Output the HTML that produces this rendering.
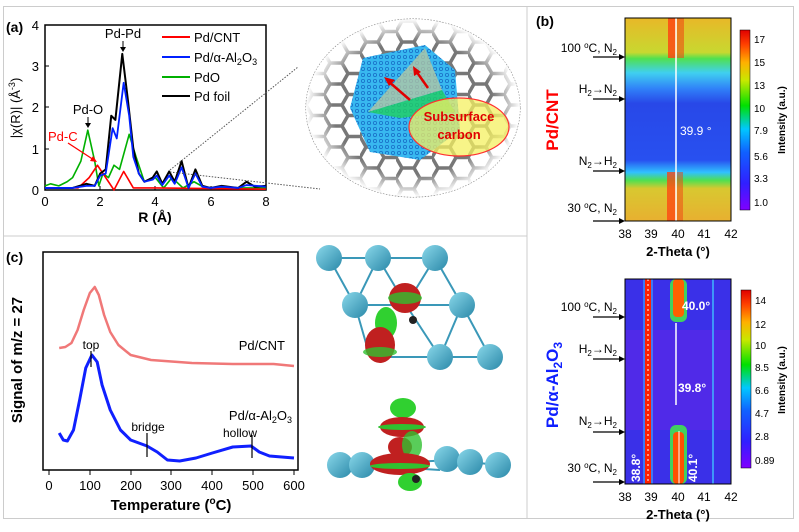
<!DOCTYPE html>
<html><head><meta charset="utf-8"><style>
html,body{margin:0;padding:0;background:#fff}
svg{display:block;font-family:"Liberation Sans",Arial,sans-serif}
</style></head><body>
<svg width="799" height="532" viewBox="0 0 799 532" xmlns="http://www.w3.org/2000/svg">
<defs>
<linearGradient id="cb" x1="0" y1="1" x2="0" y2="0">
<stop offset="0" stop-color="#8000ff"/><stop offset="0.15" stop-color="#3020ff"/><stop offset="0.32" stop-color="#1060ff"/><stop offset="0.45" stop-color="#00c8ff"/><stop offset="0.58" stop-color="#00e000"/><stop offset="0.72" stop-color="#c8e800"/><stop offset="0.82" stop-color="#ffb000"/><stop offset="0.92" stop-color="#ff4000"/><stop offset="1" stop-color="#e00000"/>
</linearGradient>
<linearGradient id="hm1" x1="0" y1="0" x2="0" y2="1">
<stop offset="0" stop-color="#e8b828"/><stop offset="0.17" stop-color="#c8d830"/><stop offset="0.2" stop-color="#50e050"/><stop offset="0.27" stop-color="#40d0f0"/><stop offset="0.35" stop-color="#3080f8"/><stop offset="0.42" stop-color="#2848e8"/><stop offset="0.7" stop-color="#2850f0"/><stop offset="0.76" stop-color="#30c0ff"/><stop offset="0.8" stop-color="#50e050"/><stop offset="0.84" stop-color="#d8c830"/><stop offset="1" stop-color="#e8b030"/>
</linearGradient>
<linearGradient id="sphere" x1="0" y1="0" x2="1" y2="1"><stop offset="0" stop-color="#8ad8ea"/><stop offset="1" stop-color="#2a88a8"/></linearGradient>
<radialGradient id="ell" cx="0.5" cy="0.5" r="0.5"><stop offset="0.75" stop-color="#fff" stop-opacity="0"/><stop offset="1" stop-color="#fff"/></radialGradient>
<pattern id="hex" width="36" height="21" patternUnits="userSpaceOnUse"><path d="M0 10.5 L6 0 L18 0 L24 10.5 L18 21 L6 21 Z M24 10.5 L36 10.5" fill="none" stroke="#777" stroke-width="3.5"/></pattern>
<pattern id="pd" width="6" height="6" patternUnits="userSpaceOnUse"><rect width="6" height="6" fill="#38b8f0"/><circle cx="3" cy="3" r="1.6" fill="none" stroke="#1870c8" stroke-width="0.8"/></pattern>
</defs>
<rect x="3.5" y="6.5" width="790" height="512" fill="none" stroke="#ccc"/>
<line x1="527" y1="6" x2="527" y2="518" stroke="#ccc"/>
<line x1="3" y1="236" x2="527" y2="236" stroke="#ccc"/>

<!-- panel a -->
<text x="6" y="32" font-size="14" font-weight="bold">(a)</text>
<rect x="45" y="25" width="221" height="165" fill="none" stroke="#000" stroke-width="1.5"/>
<g font-size="13" text-anchor="end">
<text x="39" y="195">0</text><text x="39" y="154">1</text><text x="39" y="112">2</text><text x="39" y="71">3</text><text x="39" y="30">4</text>
</g>
<g stroke="#000"><line x1="45" y1="149" x2="49" y2="149"/><line x1="45" y1="107" x2="49" y2="107"/><line x1="45" y1="66" x2="49" y2="66"/>
<line x1="100" y1="190" x2="100" y2="186"/><line x1="155" y1="190" x2="155" y2="186"/><line x1="211" y1="190" x2="211" y2="186"/></g>
<g font-size="13" text-anchor="middle"><text x="45" y="206">0</text><text x="100" y="206">2</text><text x="155" y="206">4</text><text x="211" y="206">6</text><text x="266" y="206">8</text></g>
<text x="155" y="222" font-size="14" font-weight="bold" text-anchor="middle">R (Å)</text>
<text transform="translate(20,108) rotate(-90)" font-size="13" text-anchor="middle">|χ(R)| (Å<tspan font-size="9" dy="-5">-3</tspan><tspan dy="5">)</tspan></text>
<g transform="translate(45,190) scale(27.6,-41.25)" fill="none" stroke-linejoin="round">
<polyline vector-effect="non-scaling-stroke" stroke="#00b000" stroke-width="1.6" points="0,0.1 0.2,0.15 0.5,0.1 0.8,0.2 1,0.3 1.3,0.7 1.55,1.45 1.8,0.7 1.95,0.1 2.1,0.4 2.3,0.3 2.5,0.6 2.7,0.5 3.05,1.35 3.3,0.8 3.6,0.2 4,0.3 4.3,0.05 4.6,0.3 5,0.05 5.4,0.2 5.8,0.05 8,0.05"/>
<polyline vector-effect="non-scaling-stroke" stroke="#ff0000" stroke-width="1.6" points="0,0.05 1.2,0.05 1.6,0.3 1.9,0.6 2.2,0.3 2.5,0 2.85,0.45 3.2,0.05 4,0.05 8,0.02"/>
<polyline vector-effect="non-scaling-stroke" stroke="#000" stroke-width="2" points="0,0.05 1,0.05 1.5,0.15 1.8,0.1 2,0.4 2.2,0.5 2.4,1.8 2.55,1.7 2.8,3.3 3,2.2 3.2,1 3.4,0.4 3.6,0.2 3.9,0.3 4.05,0.45 4.25,0.15 4.5,0.45 4.7,0.2 4.95,0.7 5.2,0.05 5.45,0.5 5.7,0.1 6,0.05 6.4,0.1 7,0.05 7.3,0.2 7.6,0.08 8,0.1"/>
<polyline vector-effect="non-scaling-stroke" stroke="#0020ff" stroke-width="1.8" points="0,0.05 1,0.05 1.5,0.1 1.8,0.1 2,0.35 2.2,0.4 2.45,1.5 2.6,1.25 2.85,2.6 3.05,1.8 3.2,0.8 3.4,0.4 3.6,0.2 3.9,0.25 4.05,0.35 4.25,0.12 4.5,0.35 4.7,0.15 4.95,0.55 5.2,0.05 5.45,0.4 5.7,0.08 6,0.05 6.4,0.08 7,0.05 7.3,0.12 8,0.08"/>
</g>
<text x="123" y="38" font-size="13" text-anchor="middle">Pd-Pd</text>
<line x1="123" y1="41" x2="123" y2="49" stroke="#000"/><path d="M120 47 L126 47 L123 52Z"/>
<text x="88" y="114" font-size="13" text-anchor="middle">Pd-O</text>
<line x1="88" y1="117" x2="88" y2="125" stroke="#000"/><path d="M85 123 L91 123 L88 128Z"/>
<text x="48" y="141" font-size="13" fill="#ff0000">Pd-C</text>
<line x1="68" y1="143" x2="94" y2="160" stroke="#ff0000" stroke-width="1.3"/><path d="M97 162 L90 161 L93 156Z" fill="#ff0000"/>
<g font-size="13"><line x1="162" y1="37" x2="190" y2="37" stroke="#ff0000" stroke-width="2"/><text x="194" y="42">Pd/CNT</text>
<line x1="162" y1="57" x2="190" y2="57" stroke="#0020ff" stroke-width="2"/><text x="194" y="62">Pd/α-Al<tspan font-size="9" dy="3">2</tspan><tspan dy="-3">O</tspan><tspan font-size="9" dy="3">3</tspan></text>
<line x1="162" y1="77" x2="190" y2="77" stroke="#00b000" stroke-width="2"/><text x="194" y="82">PdO</text>
<line x1="162" y1="96" x2="190" y2="96" stroke="#000" stroke-width="2"/><text x="194" y="101">Pd foil</text></g>
<line x1="170" y1="170" x2="298" y2="67" stroke="#555" stroke-dasharray="1.5,1.5"/>
<line x1="170" y1="172" x2="320" y2="189" stroke="#555" stroke-dasharray="1.5,1.5"/>

<!-- middle illustration -->
<ellipse cx="413" cy="108" rx="107" ry="89" fill="#fff"/>
<ellipse cx="413" cy="108" rx="107" ry="89" fill="url(#hex)" stroke="#777" stroke-dasharray="1.5,1.5"/>
<ellipse cx="413" cy="108" rx="107" ry="89" fill="url(#ell)"/>
<path d="M363 58 L425 45 L455 70 L460 130 L420 160 L370 152 L350 108 Z" fill="url(#pd)"/>
<path d="M368 112 L425 48 L442 90 Z" fill="#b8c8a0" opacity="0.75"/>
<path d="M368 112 L442 90 L455 112 L400 118Z" fill="#20d060" opacity="0.8"/>
<ellipse cx="459" cy="127" rx="50" ry="29" fill="#f4f060" fill-opacity="0.75" stroke="#ff3030" stroke-width="1.2"/>
<line x1="410" y1="100" x2="388" y2="81" stroke="#e00000" stroke-width="2.5"/><path d="M384 77 L395 80 L389 86Z" fill="#e00000"/>
<line x1="428" y1="88" x2="416" y2="71" stroke="#e00000" stroke-width="2.5"/><path d="M413 66 L421 72 L414 76Z" fill="#e00000"/>
<text x="459" y="121" font-size="13" font-weight="bold" fill="#e00000" text-anchor="middle">Subsurface</text>
<text x="459" y="139" font-size="13" font-weight="bold" fill="#e00000" text-anchor="middle">carbon</text>

<!-- panel b top -->
<text x="536" y="26" font-size="14" font-weight="bold">(b)</text>
<rect x="625" y="18" width="106" height="203" fill="url(#hm1)"/>
<rect x="668" y="18" width="8" height="40" fill="#ff4010" opacity="0.8"/>
<rect x="677" y="18" width="7" height="40" fill="#f04010" opacity="0.55"/>
<rect x="667" y="172" width="9" height="49" fill="#ff4010" opacity="0.75"/>
<rect x="677" y="172" width="6" height="49" fill="#f04010" opacity="0.5"/>
<line x1="676" y1="18" x2="676" y2="221" stroke="#fff" stroke-width="1.5"/>
<rect x="625" y="18" width="106" height="203" fill="none" stroke="#000"/>
<text x="680" y="135" font-size="12" fill="#fff">39.9 °</text>
<g font-size="12" text-anchor="middle"><text x="625" y="238">38</text><text x="651" y="238">39</text><text x="678" y="238">40</text><text x="704" y="238">41</text><text x="731" y="238">42</text></g>
<text x="678" y="256" font-size="13" font-weight="bold" text-anchor="middle">2-Theta (°)</text>
<rect x="740" y="30" width="10" height="180" fill="url(#cb)" stroke="#000" stroke-width="0.5"/>
<g font-size="10"><text x="754" y="43">17</text><text x="754" y="66">15</text><text x="754" y="89">13</text><text x="754" y="112">10</text><text x="754" y="134">7.9</text><text x="754" y="160">5.6</text><text x="754" y="182">3.3</text><text x="754" y="206">1.0</text></g>
<text transform="translate(785,120) rotate(-90)" font-size="10" font-weight="bold" text-anchor="middle">Intensity (a.u.)</text>
<text transform="translate(558,120) rotate(-90)" font-size="17" font-weight="bold" fill="#ff0000" text-anchor="middle">Pd/CNT</text>
<g font-size="12" text-anchor="end"><text x="617" y="52">100 <tspan font-size="8" dy="-4">o</tspan><tspan dy="4">C, N</tspan><tspan font-size="8" dy="3">2</tspan></text>
<text x="617" y="93">H<tspan font-size="8" dy="3">2</tspan><tspan dy="-3">→N</tspan><tspan font-size="8" dy="3">2</tspan></text>
<text x="617" y="165">N<tspan font-size="8" dy="3">2</tspan><tspan dy="-3">→H</tspan><tspan font-size="8" dy="3">2</tspan></text>
<text x="617" y="212">30 <tspan font-size="8" dy="-4">o</tspan><tspan dy="4">C, N</tspan><tspan font-size="8" dy="3">2</tspan></text></g>
<g stroke="#000" stroke-width="1.3"><line x1="593" y1="57" x2="620" y2="57"/><line x1="593" y1="99" x2="620" y2="99"/><line x1="593" y1="171" x2="620" y2="171"/><line x1="593" y1="221" x2="620" y2="221"/></g>
<g><path d="M619 54 L625 57 L619 60Z"/><path d="M619 96 L625 99 L619 102Z"/><path d="M619 168 L625 171 L619 174Z"/><path d="M619 218 L625 221 L619 224Z"/></g>

<!-- panel b bottom -->
<rect x="625" y="279" width="106" height="205" fill="#3a30e8"/>
<rect x="625" y="330" width="106" height="100" fill="#5a28e8" opacity="0.7"/>
<rect x="643" y="279" width="10" height="205" fill="#40c0ff" opacity="0.5"/>
<rect x="645" y="279" width="6" height="205" fill="#ff2000"/>
<line x1="648" y1="279" x2="648" y2="484" stroke="#fff" stroke-dasharray="2,3" stroke-width="1"/>
<rect x="670" y="279" width="17" height="43" rx="6" fill="#40d060"/>
<rect x="673" y="279" width="11" height="38" rx="4" fill="#ff6000"/>
<rect x="670" y="425" width="17" height="59" rx="6" fill="#40d060"/>
<rect x="673" y="432" width="11" height="52" rx="4" fill="#ff5000"/>
<line x1="713" y1="279" x2="713" y2="484" stroke="#40c0ff" stroke-width="2" opacity="0.7"/>
<line x1="676" y1="323" x2="676" y2="405" stroke="#fff" stroke-width="1.5"/>
<line x1="679" y1="431" x2="679" y2="484" stroke="#fff" stroke-width="1"/>
<rect x="625" y="279" width="106" height="205" fill="none" stroke="#000"/>
<g font-size="12" font-weight="bold" fill="#fff"><text x="682" y="310">40.0°</text><text x="678" y="392">39.8°</text>
<text transform="translate(640,482) rotate(-90)">38.8°</text><text transform="translate(697,482) rotate(-90)">40.1°</text></g>
<g font-size="12" text-anchor="middle"><text x="625" y="501">38</text><text x="651" y="501">39</text><text x="678" y="501">40</text><text x="704" y="501">41</text><text x="731" y="501">42</text></g>
<text x="678" y="519" font-size="13" font-weight="bold" text-anchor="middle">2-Theta (°)</text>
<rect x="741" y="290" width="10" height="178" fill="url(#cb)" stroke="#000" stroke-width="0.5"/>
<g font-size="10"><text x="755" y="304">14</text><text x="755" y="328">12</text><text x="755" y="349">10</text><text x="755" y="371">8.5</text><text x="755" y="394">6.6</text><text x="755" y="417">4.7</text><text x="755" y="440">2.8</text><text x="755" y="464">0.89</text></g>
<text transform="translate(785,380) rotate(-90)" font-size="10" font-weight="bold" text-anchor="middle">Intensity (a.u.)</text>
<text transform="translate(558,385) rotate(-90)" font-size="17" font-weight="bold" fill="#1020ff" text-anchor="middle">Pd/α-Al<tspan font-size="12" dy="4">2</tspan><tspan dy="-4">O</tspan><tspan font-size="12" dy="4">3</tspan></text>
<g font-size="12" text-anchor="end"><text x="617" y="311">100 <tspan font-size="8" dy="-4">o</tspan><tspan dy="4">C, N</tspan><tspan font-size="8" dy="3">2</tspan></text>
<text x="617" y="353">H<tspan font-size="8" dy="3">2</tspan><tspan dy="-3">→N</tspan><tspan font-size="8" dy="3">2</tspan></text>
<text x="617" y="425">N<tspan font-size="8" dy="3">2</tspan><tspan dy="-3">→H</tspan><tspan font-size="8" dy="3">2</tspan></text>
<text x="617" y="472">30 <tspan font-size="8" dy="-4">o</tspan><tspan dy="4">C, N</tspan><tspan font-size="8" dy="3">2</tspan></text></g>
<g stroke="#000" stroke-width="1.3"><line x1="593" y1="317" x2="620" y2="317"/><line x1="593" y1="359" x2="620" y2="359"/><line x1="593" y1="432" x2="620" y2="432"/><line x1="593" y1="482" x2="620" y2="482"/></g>
<g><path d="M619 314 L625 317 L619 320Z"/><path d="M619 356 L625 359 L619 362Z"/><path d="M619 429 L625 432 L619 435Z"/><path d="M619 479 L625 482 L619 485Z"/></g>

<!-- panel c -->
<text x="6" y="262" font-size="14" font-weight="bold">(c)</text>
<rect x="43" y="252" width="255" height="218" fill="none" stroke="#000" stroke-width="1.5"/>
<g stroke="#000"><line x1="49" y1="470" x2="49" y2="475"/><line x1="90" y1="470" x2="90" y2="475"/><line x1="131" y1="470" x2="131" y2="475"/><line x1="171" y1="470" x2="171" y2="475"/><line x1="212" y1="470" x2="212" y2="475"/><line x1="253" y1="470" x2="253" y2="475"/><line x1="294" y1="470" x2="294" y2="475"/></g>
<g font-size="13" text-anchor="middle"><text x="49" y="490">0</text><text x="90" y="490">100</text><text x="131" y="490">200</text><text x="171" y="490">300</text><text x="212" y="490">400</text><text x="253" y="490">500</text><text x="294" y="490">600</text></g>
<text x="171" y="510" font-size="15" font-weight="bold" text-anchor="middle">Temperature (<tspan font-size="10" dy="-6">o</tspan><tspan dy="6">C)</tspan></text>
<text transform="translate(22,360) rotate(-90)" font-size="15" font-weight="bold" text-anchor="middle">Signal of m/z = 27</text>
<g transform="translate(49,0) scale(0.4083,1)" fill="none" stroke-linejoin="round">
<polyline vector-effect="non-scaling-stroke" stroke="#f07878" stroke-width="2.5" points="25,348 40,347 55,343 70,330 85,310 100,293 112,287 122,295 135,315 150,332 170,345 200,355 250,360 350,363 450,364 550,364 600,366"/>
<polyline vector-effect="non-scaling-stroke" stroke="#1020ff" stroke-width="3" points="25,433 35,440 45,441 60,430 75,400 90,368 105,355 118,362 130,385 150,410 175,430 200,440 240,446 265,452 290,460 320,461 360,458 400,453 450,447 495,446 515,452 540,456 600,458"/>
</g>
<text x="91" y="349" font-size="12" text-anchor="middle">top</text>
<line x1="91" y1="351" x2="91" y2="367" stroke="#000" stroke-width="1.2"/>
<text x="148" y="431" font-size="12" text-anchor="middle">bridge</text>
<line x1="147" y1="433" x2="147" y2="457" stroke="#000" stroke-width="1.2"/>
<text x="240" y="437" font-size="12" text-anchor="middle">hollow</text>
<line x1="252" y1="435" x2="252" y2="458" stroke="#000" stroke-width="1.2"/>
<text x="285" y="350" font-size="13" text-anchor="end">Pd/CNT</text>
<text x="292" y="420" font-size="13" text-anchor="end">Pd/α-Al<tspan font-size="9" dy="3">2</tspan><tspan dy="-3">O</tspan><tspan font-size="9" dy="3">3</tspan></text>

<!-- molecules -->
<g stroke="#3a98b8" stroke-width="2" fill="none">
<path d="M329 258 L378 258 L435 258 M329 258 L355 305 L378 258 L406 305 L435 258 L462 305 L490 357 M355 305 L406 305 L462 305 M355 305 L370 357 M406 305 L440 357 L490 357 M462 305 L440 357 M370 357 L440 357"/>
<path d="M340 465 L362 465 L450 460 L498 465 M362 465 L440 470"/>
</g>
<g fill="url(#sphere)">
<circle cx="329" cy="258" r="13"/><circle cx="378" cy="258" r="13"/><circle cx="435" cy="258" r="13"/>
<circle cx="355" cy="305" r="13"/><circle cx="462" cy="305" r="13"/>
<circle cx="440" cy="357" r="13"/><circle cx="490" cy="357" r="13"/>
<circle cx="340" cy="465" r="13"/><circle cx="362" cy="465" r="13"/><circle cx="447" cy="459" r="13"/><circle cx="470" cy="462" r="13"/><circle cx="498" cy="465" r="13"/>
</g>
<g>
<ellipse cx="405" cy="298" rx="16" ry="15" fill="#c02020"/><ellipse cx="405" cy="298" rx="17" ry="6" fill="#30c030" opacity="0.8"/>
<ellipse cx="386" cy="323" rx="11" ry="16" fill="#30d030"/>
<ellipse cx="380" cy="345" rx="15" ry="18" fill="#c02020"/><ellipse cx="380" cy="352" rx="17" ry="5" fill="#30c030" opacity="0.8"/>
<circle cx="413" cy="320" r="4" fill="#222"/>
<ellipse cx="403" cy="408" rx="13" ry="10" fill="#30d030"/>
<ellipse cx="402" cy="427" rx="22" ry="10" fill="#c02020"/><ellipse cx="402" cy="427" rx="24" ry="3" fill="#30c030"/>
<ellipse cx="400" cy="447" rx="12" ry="10" fill="#c02020"/><ellipse cx="412" cy="445" rx="10" ry="14" fill="#30c030" opacity="0.8"/>
<ellipse cx="400" cy="464" rx="30" ry="11" fill="#c02020"/><ellipse cx="400" cy="466" rx="30" ry="3" fill="#30c030"/>
<ellipse cx="410" cy="482" rx="12" ry="9" fill="#30d030"/><circle cx="416" cy="479" r="4" fill="#222"/>
</g>
</svg>
</body></html>
